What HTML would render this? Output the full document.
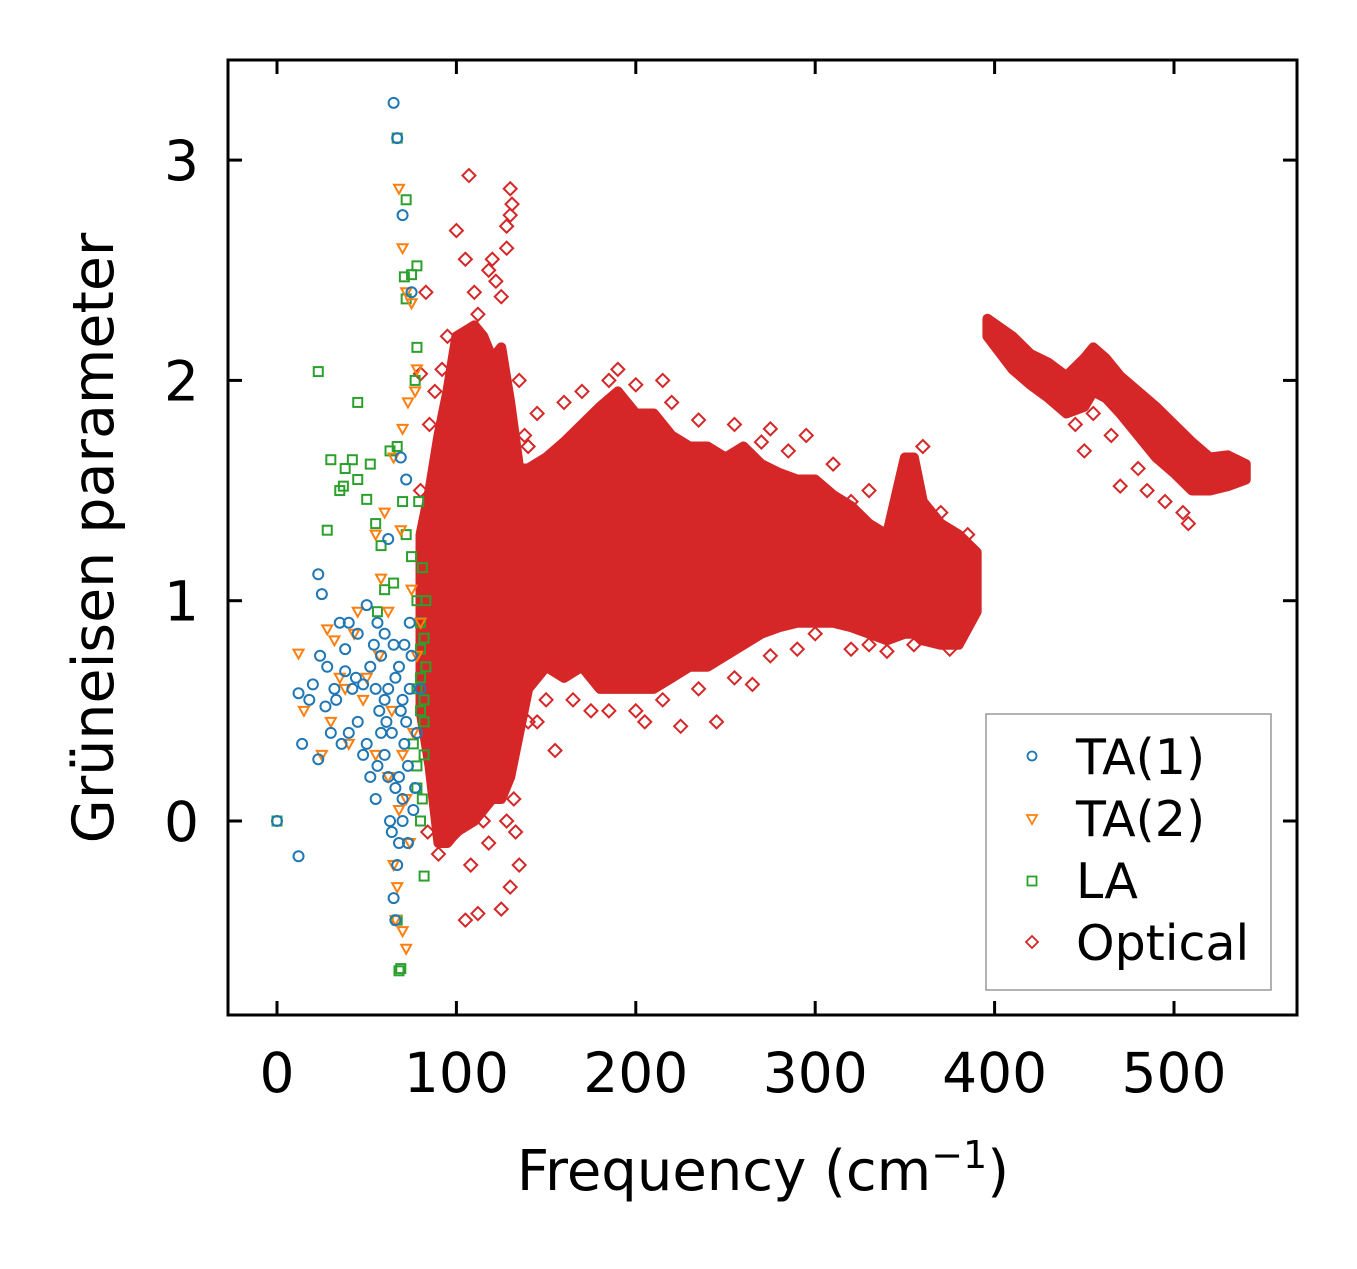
<!DOCTYPE html>
<html><head><meta charset="utf-8"><style>
html,body{margin:0;padding:0;background:#fff;}
svg text{font-family:"DejaVu Sans","Liberation Sans",sans-serif;fill:#000;}
</style></head><body>
<svg id="chart" width="1357" height="1264" xmlns="http://www.w3.org/2000/svg">
<g id="marks"></g>
<rect x="228" y="60" width="1069" height="955" fill="none" stroke="#000" stroke-width="3"/>
<g id="axes"></g>
<text x="763" y="1190" font-size="56" text-anchor="middle">Frequency (cm<tspan dy="-22" font-size="38">−1</tspan><tspan dy="22">)</tspan></text>
<text transform="translate(113,538) rotate(-90)" font-size="57" text-anchor="middle">Grüneisen parameter</text>
<g>
<rect x="986" y="714" width="285" height="276" fill="#fff" stroke="#999" stroke-width="1.5"/>
<circle cx="1032" cy="756" r="4.5" fill="none" stroke="#1f77b4" stroke-width="1.8"/>
<text x="1076" y="774" font-size="49">TA(1)</text>
<path d="M1027,815 L1037,815 L1032,824 Z" fill="none" stroke="#ff7f0e" stroke-width="1.8"/>
<text x="1076" y="836" font-size="49">TA(2)</text>
<rect x="1027.5" y="876.5" width="9" height="9" fill="none" stroke="#2ca02c" stroke-width="1.8"/>
<text x="1076" y="898" font-size="49">LA</text>
<path d="M1032,936 L1038,942 L1032,948 L1026,942 Z" fill="none" stroke="#d62728" stroke-width="1.8"/>
<text x="1076" y="960" font-size="49">Optical</text>
</g>
</svg>
<script>
const xTicks=[0,100,200,300,400,500];
const yTicks=[0,1,2,3];
const ta1=[[0,0],[12,-0.16],[65,3.26],[67,3.1],[70,2.75],[75,2.4],[23,1.12],[25,1.03],[12,0.58],[18,0.55],[20,0.62],[24,0.75],[14,0.35],[23,0.28],[28,0.7],[30,0.4],[35,0.9],[38,0.78],[40,0.4],[42,0.6],[45,0.85],[48,0.3],[50,0.98],[52,0.7],[55,0.1],[57,0.5],[60,0.85],[62,0.6],[64,-0.05],[65,-0.35],[66,-0.45],[68,0.2],[70,0.55],[72,1.55],[62,1.28],[68,-0.1],[75,0.75],[78,0.4],[80,0.6],[33,0.55],[38,0.68],[45,0.45],[50,0.35],[55,0.6],[60,0.3],[65,0.8],[70,0.1],[72,0.45],[58,0.75],[63,0.0],[67,-0.2],[73,0.25],[76,0.05],[69,1.65],[40,0.9],[44,0.65],[52,0.2],[56,0.9],[61,0.45],[66,0.65],[71,0.35],[74,0.9],[77,0.15],[27,0.52],[32,0.6],[36,0.35],[48,0.62],[54,0.8],[60,0.55],[64,0.4],[68,0.7],[70,0.0],[73,-0.1],[66,0.15],[62,0.2],[58,0.4],[56,0.25],[74,0.6],[71,0.8],[69,0.5]];
const ta2=[[68,2.87],[70,2.6],[72,2.4],[75,2.35],[73,1.9],[77,1.95],[70,1.78],[65,1.65],[60,1.4],[55,1.3],[45,0.95],[43,0.85],[28,0.87],[12,0.76],[15,0.5],[30,0.45],[40,0.35],[50,0.65],[55,0.3],[62,0.2],[65,-0.2],[67,-0.3],[70,-0.5],[72,-0.58],[68,0.05],[75,1.05],[78,0.75],[62,0.95],[58,1.1],[72,0.1],[74,-0.1],[66,-0.45],[69,1.32],[80,0.9],[78,2.05],[35,0.65],[25,0.3],[48,0.55],[57,0.75],[32,0.82],[38,0.6],[64,0.5],[70,0.3],[76,0.4]];
const la=[[0,0],[67,3.1],[72,2.82],[71,2.47],[75,2.48],[78,2.52],[72,2.37],[78,2.15],[77,2.0],[23,2.04],[45,1.9],[30,1.64],[42,1.64],[38,1.6],[45,1.55],[52,1.62],[35,1.5],[37,1.52],[50,1.46],[28,1.32],[55,1.35],[58,1.25],[63,1.68],[67,1.7],[70,1.45],[72,1.3],[75,1.2],[78,1.0],[80,0.9],[82,0.83],[83,0.7],[80,0.5],[82,0.3],[78,0.15],[80,0.0],[82,-0.25],[67,-0.45],[68,-0.68],[69,-0.67],[65,1.08],[60,1.05],[56,0.95],[78,0.6],[80,0.78],[82,0.55],[76,0.35],[79,1.45],[83,1.0],[81,1.15],[80,0.65],[82,0.45],[78,0.25],[81,0.1]];
const optEnvFreq=[80,85,90,95,100,110,115,120,125,130,135,140,150,160,170,180,190,200,210,220,230,240,250,260,270,280,290,300,310,320,330,340,350,355,360,370,380,390,390];
const optEnvMin=[0.5,0.25,-0.1,-0.1,-0.05,0.0,0.05,0.1,0.1,0.2,0.4,0.6,0.7,0.65,0.7,0.6,0.6,0.6,0.6,0.65,0.7,0.7,0.75,0.8,0.85,0.88,0.9,0.9,0.9,0.88,0.85,0.82,0.85,0.85,0.82,0.8,0.8,0.95,1.1];
const optEnvMax=[1.3,1.5,1.75,1.95,2.2,2.25,2.2,2.1,2.15,1.9,1.6,1.6,1.65,1.72,1.8,1.88,1.95,1.85,1.85,1.75,1.7,1.7,1.65,1.7,1.62,1.58,1.55,1.55,1.48,1.43,1.35,1.3,1.65,1.65,1.45,1.35,1.3,1.22,1.15];
const opt2Freq=[396,410,420,430,440,450,455,462,470,480,490,500,510,520,530,540];
const opt2Min=[2.2,2.05,1.98,1.92,1.85,1.88,1.95,1.92,1.85,1.75,1.65,1.58,1.5,1.5,1.52,1.55];
const opt2Max=[2.28,2.2,2.12,2.08,2.02,2.1,2.15,2.1,2.02,1.95,1.88,1.8,1.72,1.65,1.66,1.62];
const optical=[[107,2.93],[130,2.87],[131,2.8],[130,2.75],[128,2.7],[128,2.6],[100,2.68],[105,2.55],[110,2.4],[118,2.5],[122,2.45],[125,2.38],[83,2.4],[80,2.03],[85,1.8],[105,-0.45],[112,-0.42],[118,-0.1],[125,-0.4],[130,-0.3],[133,-0.05],[90,-0.15],[100,-0.05],[115,0.0],[108,-0.2],[225,0.43],[245,0.45],[265,0.62],[155,0.32],[205,0.45],[450,1.68],[470,1.52],[485,1.5],[495,1.45],[508,1.35],[505,1.4],[480,1.6],[465,1.75],[445,1.8],[455,1.85],[430,1.95],[190,2.05],[215,2.0],[275,1.78],[295,1.75],[330,0.8],[340,0.77],[80,1.5],[82,0.8],[84,-0.05],[120,2.55],[112,2.3],[95,2.2],[135,-0.2],[145,0.45],[175,0.5],[300,0.85],[320,1.45],[360,1.7],
[132,1.7],[138,1.75],[145,1.85],[160,1.9],[170,1.95],[185,2.0],[200,1.98],[220,1.9],[235,1.82],[255,1.8],[270,1.72],[285,1.68],[310,1.62],[330,1.5],[345,1.42],[140,0.45],[150,0.55],[165,0.55],[185,0.5],[200,0.5],[215,0.55],[235,0.6],[255,0.65],[275,0.75],[290,0.78],[320,0.78],[355,0.8],[375,0.78],[385,1.3],[370,1.4],[132,0.1],[128,0.0],[92,2.05],[88,1.95],[135,2.0],[140,1.7]];

const sx=v=>277+v*1.794;
const sy=v=>821-v*220.3;
const NS="http://www.w3.org/2000/svg";
const marks=document.getElementById('marks');
const axes=document.getElementById('axes');
function mk(tag,attrs,parent){const e=document.createElementNS(NS,tag);for(const k in attrs)e.setAttribute(k,attrs[k]);parent.appendChild(e);return e;}

function band(freq,mn,mx,name){
  let d='';
  freq.forEach((f,i)=>{d+=(i?'L':'M')+sx(f)+','+sy(mx[i]);});
  for(let i=freq.length-1;i>=0;i--)d+='L'+sx(freq[i])+','+sy(mn[i]);
  const p=mk('path',{d:d+'Z',fill:'#d62728',stroke:'#d62728','stroke-width':10,'stroke-linejoin':'round'},marks);
  
  
}
band(optEnvFreq,optEnvMin,optEnvMax,'optical-dense-cloud');
band(opt2Freq,opt2Min,opt2Max,'optical-high-branch');

optical.forEach(([f,g])=>{const x=sx(f),y=sy(g);
  const e=mk('path',{d:`M${x},${y-6.5}L${x+6.5},${y}L${x},${y+6.5}L${x-6.5},${y}Z`,fill:'none',stroke:'#d62728','stroke-width':2},marks);
  
  });
la.forEach(([f,g])=>{const x=sx(f),y=sy(g);
  const e=mk('rect',{x:x-4.5,y:y-4.5,width:9,height:9,fill:'none',stroke:'#2ca02c','stroke-width':2},marks);
  
  });
ta2.forEach(([f,g])=>{const x=sx(f),y=sy(g);
  const e=mk('path',{d:`M${x-5},${y-4}L${x+5},${y-4}L${x},${y+5}Z`,fill:'none',stroke:'#ff7f0e','stroke-width':2},marks);
  
  });
ta1.forEach(([f,g])=>{
  const e=mk('circle',{cx:sx(f),cy:sy(g),r:5,fill:'none',stroke:'#1f77b4','stroke-width':2},marks);
  
  });

xTicks.forEach(t=>{const x=sx(t);
  mk('line',{x1:x,x2:x,y1:1015,y2:1001,stroke:'#000','stroke-width':3},axes);
  mk('line',{x1:x,x2:x,y1:60,y2:74,stroke:'#000','stroke-width':3},axes);
  const tx=mk('text',{x:x,y:1092,'font-size':55,'text-anchor':'middle'},axes);
  tx.textContent=t;
  
  });
yTicks.forEach(t=>{const y=sy(t);
  mk('line',{x1:228,x2:242,y1:y,y2:y,stroke:'#000','stroke-width':3},axes);
  mk('line',{x1:1297,x2:1283,y1:y,y2:y,stroke:'#000','stroke-width':3},axes);
  const tx=mk('text',{x:199,y:y+20,'font-size':55,'text-anchor':'end'},axes);
  tx.textContent=t;
  
  });
</script>
</body></html>
